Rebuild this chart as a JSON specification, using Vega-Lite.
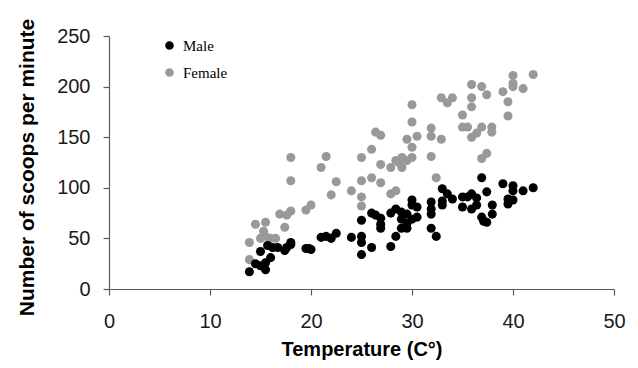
{
  "$schema": "https://vega.github.io/schema/vega-lite/v6.json",
  "autosize": {"type": "none"},
  "padding": {"left": 109, "top": 36, "right": 24, "bottom": 79},
  "width": 505,
  "height": 253,
  "background": "white",
  "config": {
    "view": {"stroke": null},
    "axis": {
      "grid": false,
      "domainColor": "#5a5a5a",
      "tickColor": "#5a5a5a",
      "tickSize": 6,
      "domainWidth": 1.2,
      "tickWidth": 1.2,
      "labelFont": "Liberation Sans",
      "labelFontSize": 20,
      "labelColor": "#1a1a1a",
      "titleFont": "Liberation Sans",
      "titleFontWeight": "bold",
      "titleColor": "#000000"
    }
  },
  "data": {
    "values": [
      {"sex": "Female", "t": 13.9, "v": 46}, {"sex": "Female", "t": 13.9, "v": 29}, {"sex": "Female", "t": 14.5, "v": 64}, {"sex": "Female", "t": 15.5, "v": 66},
      {"sex": "Female", "t": 15.0, "v": 50}, {"sex": "Female", "t": 15.5, "v": 52}, {"sex": "Female", "t": 16.0, "v": 50}, {"sex": "Female", "t": 16.5, "v": 50},
      {"sex": "Female", "t": 15.3, "v": 57}, {"sex": "Female", "t": 16.9, "v": 74}, {"sex": "Female", "t": 17.6, "v": 73}, {"sex": "Female", "t": 18.0, "v": 77},
      {"sex": "Female", "t": 17.4, "v": 61}, {"sex": "Female", "t": 18.0, "v": 130}, {"sex": "Female", "t": 18.0, "v": 107}, {"sex": "Female", "t": 19.5, "v": 78},
      {"sex": "Female", "t": 20.0, "v": 83}, {"sex": "Female", "t": 21.0, "v": 120}, {"sex": "Female", "t": 21.5, "v": 131}, {"sex": "Female", "t": 22.0, "v": 93},
      {"sex": "Female", "t": 22.5, "v": 106}, {"sex": "Female", "t": 24.0, "v": 97}, {"sex": "Female", "t": 25.0, "v": 130}, {"sex": "Female", "t": 25.0, "v": 107},
      {"sex": "Female", "t": 25.0, "v": 91}, {"sex": "Female", "t": 25.0, "v": 82}, {"sex": "Female", "t": 26.0, "v": 138}, {"sex": "Female", "t": 26.0, "v": 110},
      {"sex": "Female", "t": 26.4, "v": 155}, {"sex": "Female", "t": 26.9, "v": 152}, {"sex": "Female", "t": 26.9, "v": 123}, {"sex": "Female", "t": 26.9, "v": 105},
      {"sex": "Female", "t": 27.9, "v": 120}, {"sex": "Female", "t": 27.9, "v": 94}, {"sex": "Female", "t": 28.4, "v": 97}, {"sex": "Female", "t": 28.4, "v": 127},
      {"sex": "Female", "t": 29.0, "v": 130}, {"sex": "Female", "t": 29.0, "v": 120}, {"sex": "Female", "t": 29.5, "v": 127}, {"sex": "Female", "t": 30.0, "v": 130},
      {"sex": "Female", "t": 28.7, "v": 125}, {"sex": "Female", "t": 29.5, "v": 148}, {"sex": "Female", "t": 30.0, "v": 140}, {"sex": "Female", "t": 30.0, "v": 165},
      {"sex": "Female", "t": 30.0, "v": 182}, {"sex": "Female", "t": 30.5, "v": 151}, {"sex": "Female", "t": 31.9, "v": 159}, {"sex": "Female", "t": 31.9, "v": 151},
      {"sex": "Female", "t": 31.9, "v": 131}, {"sex": "Female", "t": 32.4, "v": 110}, {"sex": "Female", "t": 32.9, "v": 148}, {"sex": "Female", "t": 32.9, "v": 189},
      {"sex": "Female", "t": 33.5, "v": 184}, {"sex": "Female", "t": 34.0, "v": 189}, {"sex": "Female", "t": 35.0, "v": 172}, {"sex": "Female", "t": 35.0, "v": 160},
      {"sex": "Female", "t": 35.5, "v": 160}, {"sex": "Female", "t": 35.9, "v": 202}, {"sex": "Female", "t": 35.9, "v": 189}, {"sex": "Female", "t": 35.9, "v": 180},
      {"sex": "Female", "t": 35.9, "v": 150}, {"sex": "Female", "t": 36.4, "v": 154}, {"sex": "Female", "t": 36.9, "v": 160}, {"sex": "Female", "t": 36.9, "v": 200},
      {"sex": "Female", "t": 37.4, "v": 192}, {"sex": "Female", "t": 36.9, "v": 129}, {"sex": "Female", "t": 37.4, "v": 134}, {"sex": "Female", "t": 37.9, "v": 160},
      {"sex": "Female", "t": 37.9, "v": 155}, {"sex": "Female", "t": 39.0, "v": 195}, {"sex": "Female", "t": 39.5, "v": 185}, {"sex": "Female", "t": 39.5, "v": 171},
      {"sex": "Female", "t": 40.0, "v": 211}, {"sex": "Female", "t": 40.0, "v": 203}, {"sex": "Female", "t": 40.0, "v": 200}, {"sex": "Female", "t": 41.0, "v": 198},
      {"sex": "Female", "t": 42.0, "v": 212},
      {"sex": "Male", "t": 13.9, "v": 17}, {"sex": "Male", "t": 14.5, "v": 25}, {"sex": "Male", "t": 15.0, "v": 23}, {"sex": "Male", "t": 15.5, "v": 26},
      {"sex": "Male", "t": 15.5, "v": 19}, {"sex": "Male", "t": 16.0, "v": 31}, {"sex": "Male", "t": 15.0, "v": 37}, {"sex": "Male", "t": 15.7, "v": 43},
      {"sex": "Male", "t": 16.2, "v": 41}, {"sex": "Male", "t": 16.7, "v": 41}, {"sex": "Male", "t": 17.4, "v": 38}, {"sex": "Male", "t": 17.6, "v": 41},
      {"sex": "Male", "t": 18.0, "v": 46}, {"sex": "Male", "t": 18.0, "v": 44}, {"sex": "Male", "t": 19.5, "v": 40}, {"sex": "Male", "t": 20.0, "v": 39},
      {"sex": "Male", "t": 19.8, "v": 40}, {"sex": "Male", "t": 21.0, "v": 51}, {"sex": "Male", "t": 21.5, "v": 52}, {"sex": "Male", "t": 22.0, "v": 50},
      {"sex": "Male", "t": 22.5, "v": 55}, {"sex": "Male", "t": 24.0, "v": 51}, {"sex": "Male", "t": 25.0, "v": 68}, {"sex": "Male", "t": 25.0, "v": 52},
      {"sex": "Male", "t": 25.0, "v": 46}, {"sex": "Male", "t": 25.0, "v": 34}, {"sex": "Male", "t": 26.0, "v": 41}, {"sex": "Male", "t": 26.0, "v": 75},
      {"sex": "Male", "t": 26.4, "v": 73}, {"sex": "Male", "t": 26.9, "v": 70}, {"sex": "Male", "t": 26.9, "v": 64}, {"sex": "Male", "t": 26.9, "v": 60},
      {"sex": "Male", "t": 27.9, "v": 75}, {"sex": "Male", "t": 27.9, "v": 42}, {"sex": "Male", "t": 28.4, "v": 79}, {"sex": "Male", "t": 28.4, "v": 52},
      {"sex": "Male", "t": 28.95, "v": 69}, {"sex": "Male", "t": 28.95, "v": 60}, {"sex": "Male", "t": 29.5, "v": 65}, {"sex": "Male", "t": 29.5, "v": 74},
      {"sex": "Male", "t": 30.0, "v": 69}, {"sex": "Male", "t": 30.0, "v": 88}, {"sex": "Male", "t": 30.0, "v": 83}, {"sex": "Male", "t": 30.5, "v": 81},
      {"sex": "Male", "t": 30.5, "v": 71}, {"sex": "Male", "t": 29.5, "v": 60}, {"sex": "Male", "t": 28.95, "v": 76}, {"sex": "Male", "t": 31.9, "v": 86},
      {"sex": "Male", "t": 31.9, "v": 79}, {"sex": "Male", "t": 31.9, "v": 74}, {"sex": "Male", "t": 31.9, "v": 60}, {"sex": "Male", "t": 32.4, "v": 52},
      {"sex": "Male", "t": 33.0, "v": 99}, {"sex": "Male", "t": 33.0, "v": 83}, {"sex": "Male", "t": 33.5, "v": 94}, {"sex": "Male", "t": 34.0, "v": 89},
      {"sex": "Male", "t": 35.0, "v": 91}, {"sex": "Male", "t": 35.0, "v": 81}, {"sex": "Male", "t": 35.5, "v": 91}, {"sex": "Male", "t": 35.9, "v": 94},
      {"sex": "Male", "t": 35.9, "v": 79}, {"sex": "Male", "t": 36.4, "v": 83}, {"sex": "Male", "t": 36.9, "v": 110}, {"sex": "Male", "t": 36.9, "v": 71},
      {"sex": "Male", "t": 37.4, "v": 96}, {"sex": "Male", "t": 37.4, "v": 66}, {"sex": "Male", "t": 37.95, "v": 83}, {"sex": "Male", "t": 37.95, "v": 74},
      {"sex": "Male", "t": 39.0, "v": 104}, {"sex": "Male", "t": 39.5, "v": 89}, {"sex": "Male", "t": 39.5, "v": 84}, {"sex": "Male", "t": 40.0, "v": 102},
      {"sex": "Male", "t": 40.0, "v": 97}, {"sex": "Male", "t": 40.0, "v": 88}, {"sex": "Male", "t": 41.0, "v": 97}, {"sex": "Male", "t": 42.0, "v": 100},
      {"sex": "Male", "t": 33.0, "v": 87}, {"sex": "Male", "t": 36.4, "v": 90}, {"sex": "Male", "t": 37.1, "v": 67}
    ]
  },
  "mark": {"type": "circle", "size": 82, "opacity": 1},
  "encoding": {
    "x": {
      "field": "t",
      "type": "quantitative",
      "scale": {"domain": [0, 50], "nice": false},
      "axis": {
        "values": [0, 10, 20, 30, 40, 50],
        "title": "Temperature (C°)",
        "titleFontSize": 20,
        "titleY": 50,
        "labelPadding": 16,
        "labelFlush": false
      }
    },
    "y": {
      "field": "v",
      "type": "quantitative",
      "scale": {"domain": [0, 250], "nice": false},
      "axis": {
        "values": [0, 50, 100, 150, 200, 250],
        "title": "Number of scoops per minute",
        "titleFontSize": 21,
        "titleX": -72,
        "titleY": 131,
        "labelPadding": 13,
        "labelFlush": false
      }
    },
    "color": {
      "field": "sex",
      "type": "nominal",
      "scale": {"domain": ["Male", "Female"], "range": ["#000000", "#999999"]},
      "legend": {
        "title": null,
        "orient": "none",
        "legendX": 53,
        "legendY": 2,
        "padding": 0,
        "rowPadding": 11,
        "symbolType": "circle",
        "symbolSize": 72,
        "symbolStrokeWidth": 0,
        "symbolOpacity": 1,
        "labelFont": "Liberation Serif",
        "labelFontSize": 15,
        "labelColor": "#000000",
        "labelOffset": 6
      }
    }
  }
}
